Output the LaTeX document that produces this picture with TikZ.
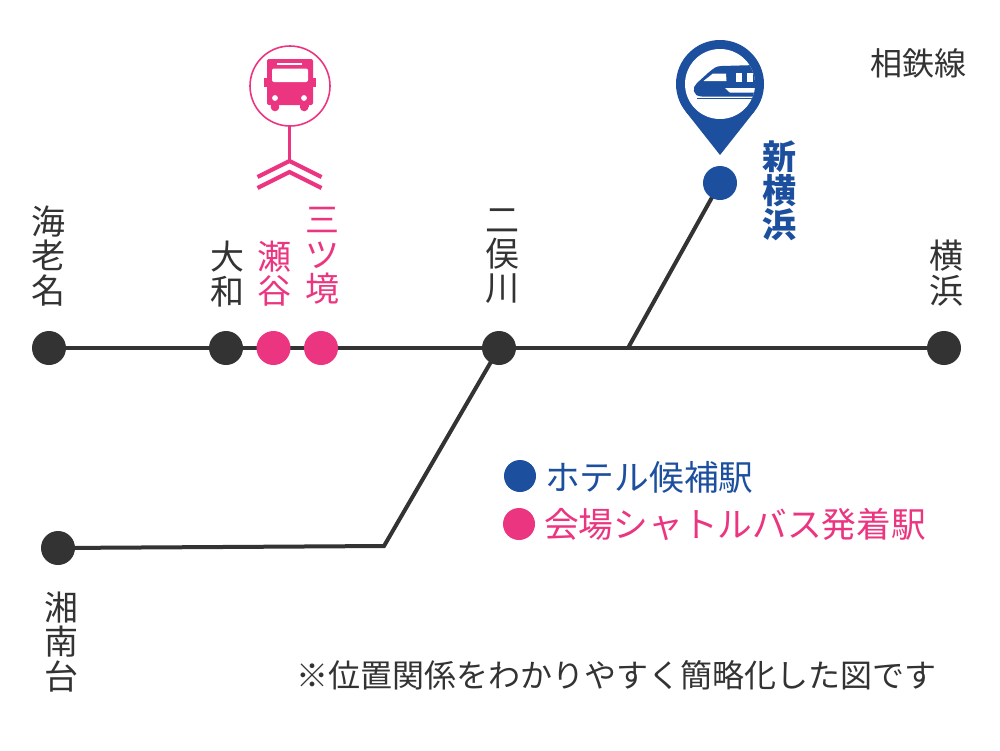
\documentclass[tikz,border=0pt]{standalone}
\usepackage{fontspec}
\setmainfont{Noto Sans CJK JP}
\definecolor{ink}{HTML}{333333}
\definecolor{pinkc}{HTML}{EC3580}
\definecolor{bluec}{HTML}{1C4F9E}
\tikzset{
 line/.style={draw=ink,line width=4pt},
 st/.style={circle,fill=ink,minimum size=34pt,inner sep=0pt},
 stp/.style={st,fill=pinkc},
 stb/.style={st,fill=bluec},
 vlab/.style={align=center,inner sep=0pt,text=ink,font=\fontsize{34}{34.3}\selectfont},
 hlab/.style={inner sep=0pt,font=\fontsize{32}{36}\selectfont,text=ink},
 leg/.style={hlab,anchor=west,font=\fontsize{34.7}{36}\selectfont},
}
\begin{document}
\begin{tikzpicture}[x=1pt,y=-1pt]
\useasboundingbox (0,0) rectangle (1000,750);
\fill[white] (0,0) rectangle (1000,750);
% junctions
\coordinate (j1) at (628,348);
\coordinate (j2) at (384,546);
% connectors first, so that the stations lie over them
\path (49,348) coordinate (ebinaC) (226,348) coordinate (yamatoC) (273.5,348) coordinate (seyaC)
      (321,348) coordinate (mitsuC) (499,348) coordinate (futaC) (944,348) coordinate (yokoC)
      (58,548) coordinate (shoC) (720,183) coordinate (shinC);
\draw[line] (ebinaC) -- (yamatoC);
\draw[line] (yamatoC) -- (seyaC);
\draw[line] (seyaC) -- (mitsuC);
\draw[line] (mitsuC) -- (futaC);
\draw[line] (futaC) -- (yokoC);
\draw[line] (j1) -- (shinC);
\draw[line] (futaC) -- (j2) -- (shoC);
% stations
\node[st] (ebina) at (ebinaC) {};
\node[st] (yamato) at (yamatoC) {};
\node[stp] (seya) at (seyaC) {};
\node[stp] (mitsu) at (mitsuC) {};
\node[st] (futa) at (futaC) {};
\node[st] (yoko) at (yokoC) {};
\node[st] (sho) at (shoC) {};
\node[stb] (shin) at (shinC) {};
% labels
\node[vlab] (lebina) at (48,256) {海\\老\\名};
\node[vlab] (lyamato) at (227,274) {大\\和};
\node[vlab,text=pinkc] (lseya) at (274,273.5) {瀬\\谷};
\node[vlab,text=pinkc] (lmitsu) at (322,256) {三\\ツ\\境};
\node[vlab] (lfuta) at (502,256) {二\\俣\\川};
\node[vlab] (lyoko) at (946,273) {横\\浜};
\node[vlab] (lsho) at (61,642) {湘\\南\\台};
\node[vlab,text=bluec,font=\fontsize{34}{34.3}\selectfont\bfseries] (lshin) at (779,191) {新\\横\\浜};
\node[hlab] (sotetsu) at (918,63) {相鉄線};
\node[stb,minimum size=32pt] (kb) at (520,476) {};
\node[stp,minimum size=32pt] (kp) at (519,524) {};
\node[leg,text=bluec] (tb) at (545,477) {ホテル候補駅};
\node[leg,text=pinkc] (tp) at (544,524) {会場シャトルバス発着駅};
\node[hlab,anchor=west] (note) at (296,675) {※位置関係をわかりやすく簡略化した図です};
% bus sign
\draw[pinkc,line width=1.6pt,fill=white] (290,86) circle (40);
\draw[pinkc,line width=2.6pt] (289.5,126) -- (289.5,161);
\draw[pinkc,line width=4.2pt] (257.5,177) -- (289.5,161) -- (321.5,177);
\draw[pinkc,line width=4.2pt] (257.5,188) -- (289.5,172) -- (321.5,188);
\fill[pinkc,rounded corners=2pt] (267,59) rectangle (313,105);
\fill[pinkc] (264,78) rectangle (316,87);
\fill[pinkc] (270.7,100) rectangle (279.3,107);
\fill[pinkc] (300,100) rectangle (308.5,107);
\fill[pinkc] (275,107) circle (4.3);
\fill[pinkc] (304.2,107) circle (4.3);
\fill[white,rounded corners=2pt] (272,68.5) rectangle (308,82);
\fill[white] (277,63) rectangle (302,64.8);
\fill[white] (275,98) circle (2.9);
\fill[white] (304,98) circle (2.9);
% pin
\fill[bluec] (720,84) circle (44);
\fill[bluec] (720,155) -- (685.5,111.3) -- (754.5,111.3) -- cycle;
\fill[white] (720,84) circle (35);
\begin{scope}
\clip (720,84) circle (35);
\fill[bluec] (757,65) -- (722,66) .. controls (716,66) and (714,68) .. (708,73) -- (697,83)
 .. controls (692,87) and (692,96.5) .. (702,96.5) -- (757,96.5) -- cycle;
\fill[bluec] (697,97.7) rectangle (757,99);
\fill[white] (703.5,81) -- (713,73.5) -- (726,73.5) -- (726.5,81) -- cycle;
\fill[white] (735.7,73) rectangle (741.5,82);
\fill[white] (747,73) rectangle (753,82);
\fill[white] (725,88) -- (757,88) -- (757,92.7) -- (730,92.7) -- cycle;
\end{scope}
\end{tikzpicture}
\end{document}
